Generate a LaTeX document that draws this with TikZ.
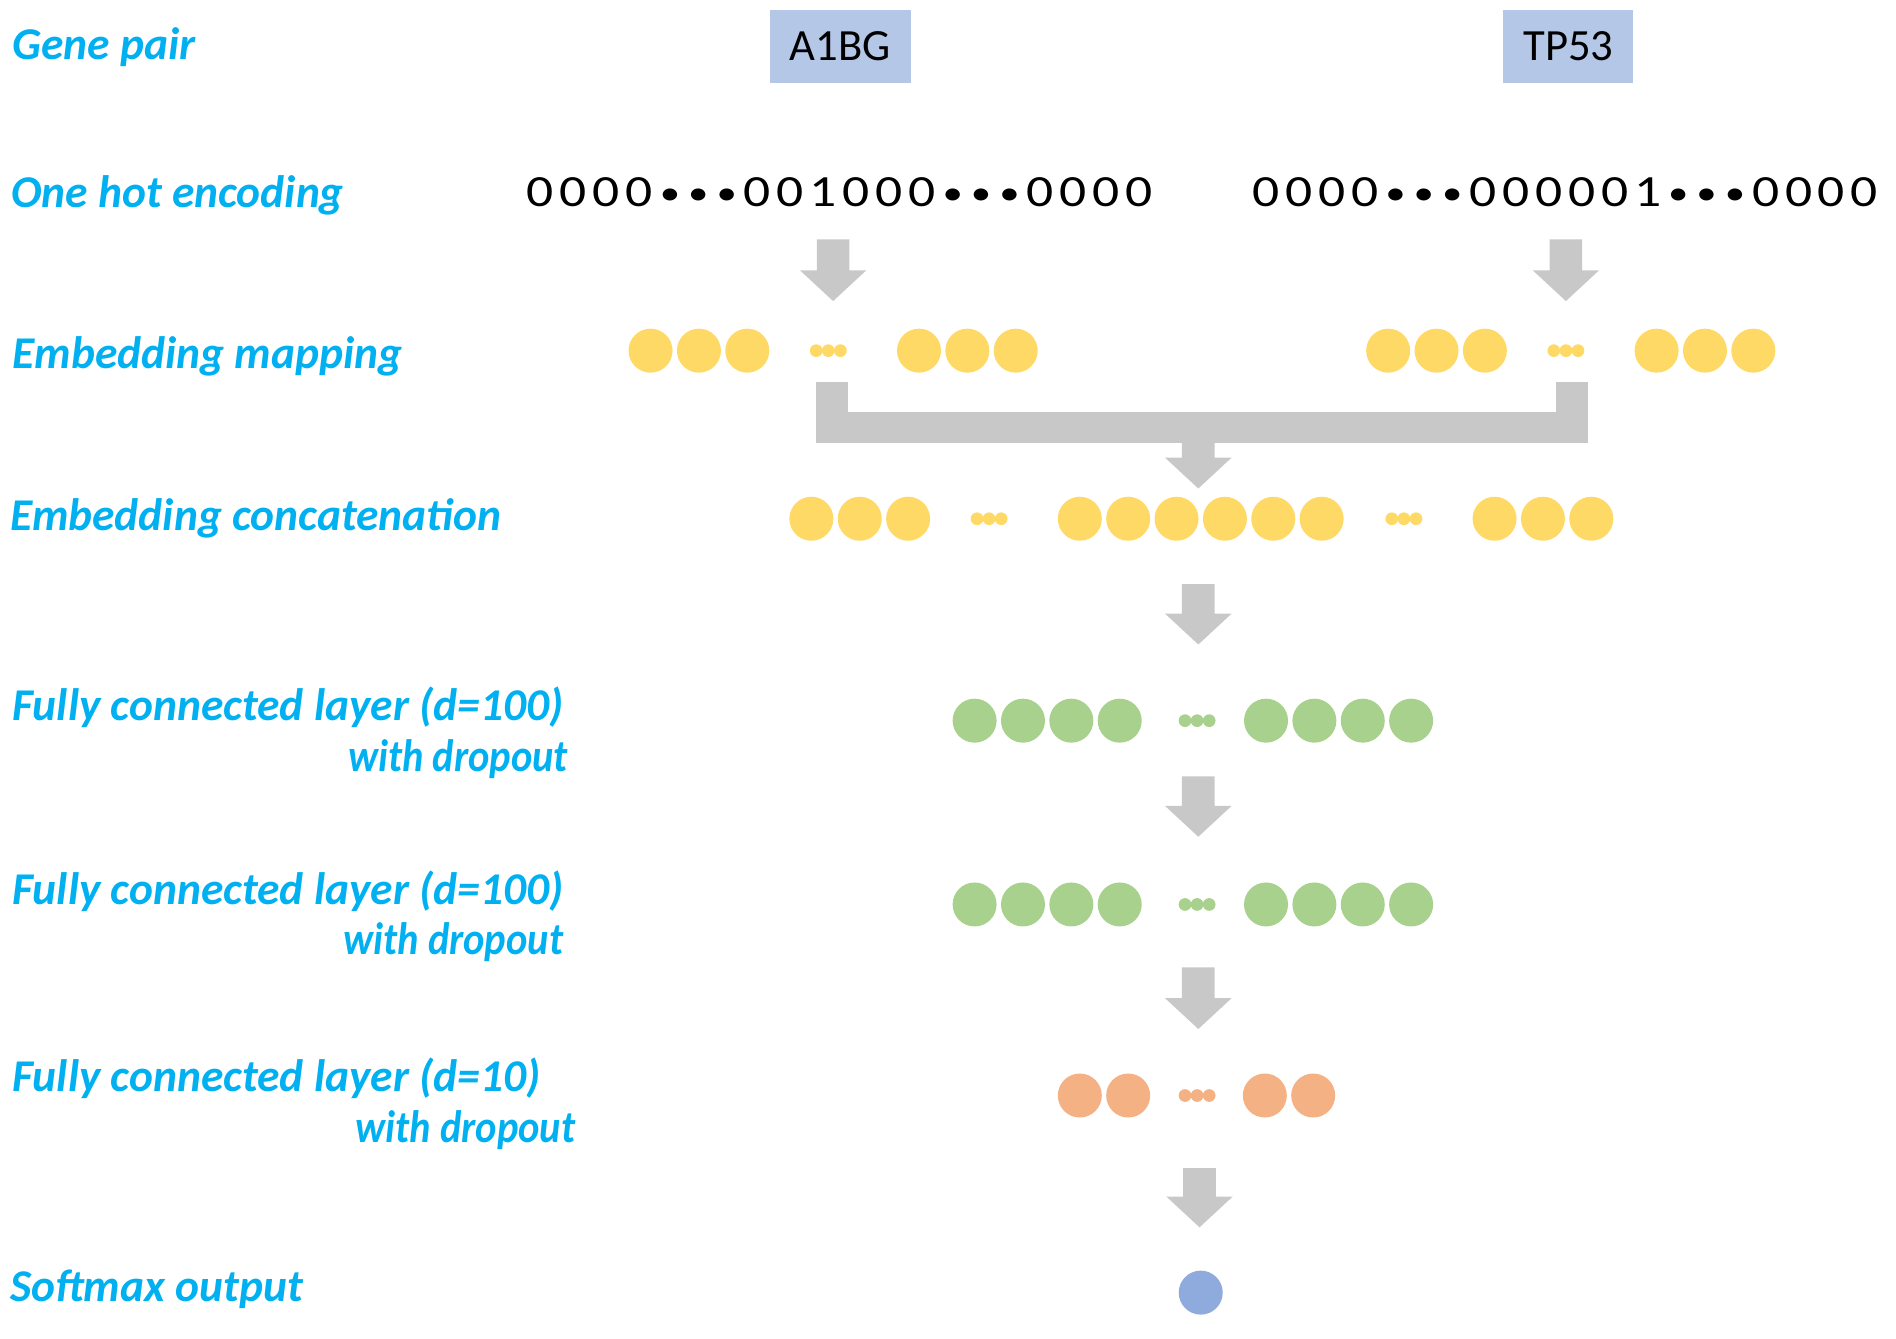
\documentclass[tikz,border=0pt]{standalone}
\usepackage{fontspec}
\setmainfont{Carlito}
\newfontfamily\digitfont[FakeStretch=1.2]{Carlito}
\newfontfamily\narrowfont[FakeStretch=0.89]{Carlito}
\usetikzlibrary{calc}
\definecolor{lblue}{RGB}{0,176,240}
\definecolor{ycol}{RGB}{255,217,102}
\definecolor{gcol}{RGB}{169,209,142}
\definecolor{ocol}{RGB}{244,177,131}
\definecolor{bcol}{RGB}{143,170,220}
\definecolor{boxcol}{RGB}{180,199,231}
\definecolor{arrcol}{RGB}{200,200,200}
\newcommand\blockarrow[2]{%
  \fill[garrow] ($(#1)+(-0.27cm,0)$) -- ($(#2)+(-0.27cm,0.51cm)$) -- ($(#2)+(-0.55cm,0.51cm)$) -- (#2)
    -- ($(#2)+(0.55cm,0.51cm)$) -- ($(#2)+(0.27cm,0.51cm)$) -- ($(#1)+(0.27cm,0)$) -- cycle;}
\newcommand\dg[1]{\makebox[15.5pt]{#1}}
\newcommand\bu{\makebox[13.37pt]{\raisebox{1.3pt}{\fontsize{16}{16}\selectfont •}}}
\begin{document}
\begin{tikzpicture}[x=0.02cm,y=-0.02cm,
  lbl/.style={inner sep=0pt, text=lblue, font=\fontsize{21.4}{25}\selectfont\bfseries\itshape},
  lbln/.style={inner sep=0pt, text=lblue, font=\fontsize{21.4}{25}\narrowfont\bfseries\itshape},
  gbox/.style={fill=boxcol, minimum height=1.2cm, inner sep=0pt, font=\fontsize{21}{25}\selectfont},
  onehot/.style={inner sep=0pt, anchor=base west, font=\fontsize{21}{25}\digitfont},
  neuron/.style={circle, minimum size=0.728cm, inner sep=0pt, draw=none},
  ndot/.style={circle, minimum size=0.21cm, inner sep=0pt, draw=none},
  garrow/.style={fill=arrcol}]
\useasboundingbox (0,0) rectangle (1568,1107.35);

% labels
\node[lbl, anchor=base west] (lgene) at (10,49) {Gene pair};
\node[lbl, anchor=base west] (lonehot) at (9,172) {One hot encoding};
\node[lbl, anchor=base west] (lembmap) at (10,305) {Embedding mapping};
\node[lbl, anchor=base west] (lconcat) at (8,439) {Embedding concatenation};
\node[lbl, anchor=base west] (lfc1) at (10,596) {Fully connected layer (d=100)};
\node[lbln, anchor=base east] (lfc1b) at (470,638) {with dropout};
\node[lbl, anchor=base west] (lfc2) at (10,748) {Fully connected layer (d=100)};
\node[lbln, anchor=base east] (lfc2b) at (466,789) {with dropout};
\node[lbl, anchor=base west] (lfc3) at (10,903) {Fully connected layer (d=10)};
\node[lbln, anchor=base east] (lfc3b) at (476,945) {with dropout};
\node[lbl, anchor=base west] (lsoft) at (8,1076) {Softmax output};

% gene boxes
\node[gbox, minimum width=2.32cm] (g1) at (695,38.5) {A1BG};
\node[gbox, minimum width=2.15cm] (g2) at (1297,38.5) {TP53};

% one hot strings
\node[onehot] (oh1) at (433,171) {\dg0\dg0\dg0\dg0\bu\bu\bu\dg0\dg0\dg1\dg0\dg0\dg0\bu\bu\bu\dg0\dg0\dg0\dg0};
\node[onehot] (oh2) at (1033,171) {\dg0\dg0\dg0\dg0\bu\bu\bu\dg0\dg0\dg0\dg0\dg0\dg1\bu\bu\bu\dg0\dg0\dg0\dg0};

% embedding mapping
\foreach \x [count=\i] in {538,578,618,760,800,840} \node[neuron, fill=ycol] (ea\i) at (\x,290) {};
\foreach \x [count=\i] in {1148,1188,1228,1370,1410,1450} \node[neuron, fill=ycol] (eb\i) at (\x,290) {};
\foreach \x [count=\i] in {675,685,695} \node[ndot, fill=ycol] (ead\i) at (\x,290) {};
\foreach \x [count=\i] in {1285,1295,1305} \node[ndot, fill=ycol] (ebd\i) at (\x,290) {};

% concatenation
\foreach \x [count=\i] in {671,711,751,893,933,973,1013,1053,1093,1236,1276,1316} \node[neuron, fill=ycol] (c\i) at (\x,429) {};
\foreach \x [count=\i] in {808,818,828,1151,1161,1171} \node[ndot, fill=ycol] (cd\i) at (\x,429) {};

% fully connected 1 and 2
\foreach \y/\n in {596/f, 748/h}{
  \foreach \x [count=\i] in {806,846,886,926,1047,1087,1127,1167} \node[neuron, fill=gcol] (\n\i) at (\x,\y) {};
  \foreach \x [count=\i] in {980,990,1000} \node[ndot, fill=gcol] (\n d\i) at (\x,\y) {};
}
% fully connected 3
\foreach \x [count=\i] in {893,933,1046,1086} \node[neuron, fill=ocol] (k\i) at (\x,906) {};
\foreach \x [count=\i] in {980,990,1000} \node[ndot, fill=ocol] (kd\i) at (\x,906) {};
% softmax
\node[neuron, fill=bcol] (sm) at (993,1069) {};

% arrows
\coordinate (a1s) at (689,198); \coordinate (a1e) at (689,249);
\coordinate (a2s) at (1295,198); \coordinate (a2e) at (1295,249);
\coordinate (a3s) at (991,366); \coordinate (a3e) at (991,404);
\coordinate (a4s) at (991,483); \coordinate (a4e) at (991,533);
\coordinate (a5s) at (991,642); \coordinate (a5e) at (991,692);
\coordinate (a6s) at (991,800); \coordinate (a6e) at (991,851);
\coordinate (a7s) at (992,966); \coordinate (a7e) at (992,1015);
\blockarrow{a1s}{a1e}
\blockarrow{a2s}{a2e}
\blockarrow{a3s}{a3e}
\blockarrow{a4s}{a4e}
\blockarrow{a5s}{a5e}
\blockarrow{a6s}{a6e}
\blockarrow{a7s}{a7e}

% bracket
\coordinate (bl) at (675,316); \coordinate (br) at (1313,316);
\fill[garrow] (bl) rectangle ($(bl)+(26,26)$);
\fill[garrow] (br) rectangle ($(br)+(-26,26)$);
\fill[garrow] (675,341) rectangle (1313,366);
\end{tikzpicture}
\end{document}
